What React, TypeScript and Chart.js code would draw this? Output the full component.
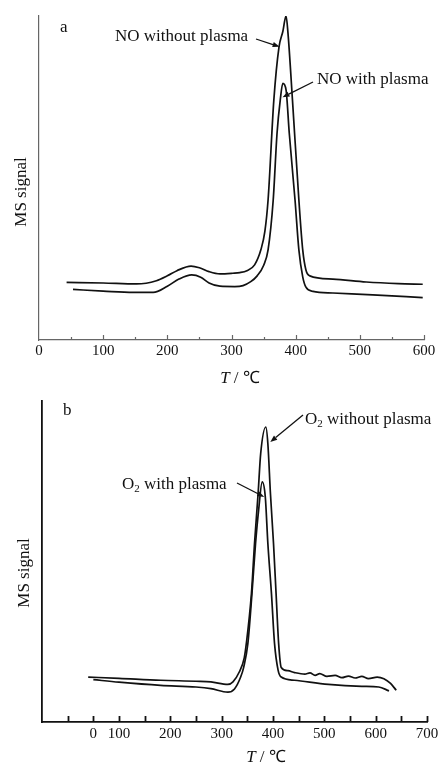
import React, { useEffect, useRef } from "react";
import { Chart, registerables } from "chart.js";
Chart.register(...registerables);

const SERIF = '"Liberation Serif", "Times New Roman", Times, serif';

// ---------- Panel a : NO signal ----------
const aTickValues = [0, 100, 200, 300, 400, 500, 600];
const aTickLabels = ["0", "100", "200", "300", "400", "500", "600"];
const aWithoutT = [43, 100, 152, 183, 200, 215, 237, 250, 265, 282, 302, 313, 324, 336, 346, 352, 357, 366, 374, 380, 385, 388, 395, 405, 411, 416, 422, 458, 510, 560, 598];
const aWithoutV = [17.8, 17.6, 17.3, 18.3, 19.8, 21.4, 22.8, 22.3, 21.1, 20.4, 20.6, 20.8, 21.4, 23.2, 28.0, 33.5, 43.2, 74.1, 90.4, 95.2, 100, 94.8, 74.1, 43.2, 27.8, 21.6, 19.8, 18.8, 17.9, 17.4, 17.2];
const aWithT = [53, 100, 147, 178, 200, 218, 238, 252, 265, 282, 305, 318, 330, 340, 350, 357, 365, 371, 376, 380, 385, 390, 399, 405, 411, 416, 427, 458, 520, 598];
const aWithV = [15.6, 15.1, 14.7, 14.7, 16.6, 18.8, 20.1, 19.4, 17.6, 16.6, 16.5, 16.8, 18.0, 19.8, 23.0, 27.8, 43.2, 63.9, 74.1, 79.2, 77.2, 63.9, 43.2, 27.8, 19.5, 16.3, 15.0, 14.5, 13.9, 13.1];

// ---------- Panel b : O2 signal ----------
const bTickValues = [50, 100, 200, 300, 400, 500, 600, 700];
const bTickLabels = ["0", "100", "200", "300", "400", "500", "600", "700"];
const bWithoutT = [40, 100, 181, 250, 279, 312, 322, 334, 344, 348, 358, 364, 371, 376, 386, 390, 395, 401, 406, 411, 416, 429, 442, 462, 472, 482, 491, 505, 521, 534, 547, 560, 573, 586, 603, 616, 629, 640];
const bWithoutV = [14.0, 13.6, 13.0, 12.7, 12.5, 11.7, 12.5, 15.5, 20.0, 24.4, 40.0, 55.6, 71.2, 83.6, 91.9, 86.7, 71.2, 55.6, 40.0, 24.4, 17.0, 16.0, 15.4, 14.9, 15.3, 14.5, 15.1, 14.2, 14.5, 13.8, 14.3, 13.7, 14.2, 13.5, 14.0, 13.5, 12.0, 9.9];
const bWithT = [50, 100, 181, 250, 279, 312, 325, 337, 343, 351, 359, 366, 372, 379, 385, 390, 397, 403, 410, 416, 442, 508, 573, 606, 626];
const bWithV = [13.2, 12.4, 11.4, 10.9, 10.4, 9.3, 10.3, 14.0, 17.1, 24.4, 40.0, 55.6, 66.0, 74.8, 70.1, 55.6, 40.0, 24.4, 16.1, 14.0, 13.0, 11.7, 11.1, 10.9, 9.7];

type Part = { t: string; size: number; italic?: boolean; dy?: number };

function drawParts(ctx: CanvasRenderingContext2D, parts: Part[], x: number, y: number, align: "left" | "center") {
  const fontOf = (p: Part) => `${p.italic ? "italic " : ""}${p.size}px ${SERIF}`;
  let total = 0;
  for (const p of parts) {
    ctx.font = fontOf(p);
    total += ctx.measureText(p.t).width;
  }
  let cx = align === "center" ? x - total / 2 : x;
  ctx.textAlign = "left";
  ctx.textBaseline = "alphabetic";
  for (const p of parts) {
    ctx.font = fontOf(p);
    ctx.fillText(p.t, cx, y + (p.dy || 0));
    cx += ctx.measureText(p.t).width;
  }
}

function drawArrow(ctx: CanvasRenderingContext2D, x1: number, y1: number, x2: number, y2: number) {
  const ang = Math.atan2(y2 - y1, x2 - x1);
  const hl = 7, hw = 2.6;
  const bx = x2 - hl * Math.cos(ang), by = y2 - hl * Math.sin(ang);
  ctx.beginPath();
  ctx.moveTo(x1, y1);
  ctx.lineTo(bx, by);
  ctx.lineWidth = 1.3;
  ctx.strokeStyle = "#111";
  ctx.stroke();
  ctx.beginPath();
  ctx.moveTo(x2, y2);
  ctx.lineTo(bx + hw * Math.sin(ang), by - hw * Math.cos(ang));
  ctx.lineTo(bx - hw * Math.sin(ang), by + hw * Math.cos(ang));
  ctx.closePath();
  ctx.fillStyle = "#111";
  ctx.fill();
}

type Note = { parts: Part[]; x: number; y: number };
type Arrow = { x: number; y: number; tipX: number; tipY: number };

type PanelCfg = {
  height: number;
  withoutT: number[];
  withoutV: number[];
  withT: number[];
  withV: number[];
  xMin: number;
  xMax: number;
  tickValues: number[];
  tickLabels: string[];
  padTop: number;
  padRight: number;
  yWidth: number;
  xHeight: number;
  axisColor: string;
  axisWidth: number;
  majorLen: number;
  minorLen: number;
  tickPad: number;
  notes: Note[];
  arrows: Arrow[];
  yTitle: { x: number; y: number };
  xTitle: { x: number; y: number };
};

function makeChart(canvas: HTMLCanvasElement, c: PanelCfg) {
  const overlay = {
    id: "overlay" + Math.random().toString(36).slice(2),
    afterDraw(chart: any) {
      const ctx: CanvasRenderingContext2D = chart.ctx;
      const xs = chart.scales.x;
      const ys = chart.scales.y;
      const area = chart.chartArea;
      ctx.save();
      // inward tick marks
      ctx.strokeStyle = c.axisColor;
      ctx.lineWidth = c.axisWidth;
      for (const t of xs.ticks) {
        if (t.value <= c.xMin) continue;
        const px = Math.round(xs.getPixelForValue(t.value)) + 0.5;
        const len = t.value % 100 === 0 ? c.majorLen : c.minorLen;
        ctx.beginPath();
        ctx.moveTo(px, area.bottom);
        ctx.lineTo(px, area.bottom - len);
        ctx.stroke();
      }
      ctx.fillStyle = "#111";
      for (const n of c.notes) drawParts(ctx, n.parts, n.x, n.y, "left");
      for (const a of c.arrows) {
        drawArrow(ctx, a.x, a.y, xs.getPixelForValue(a.tipX), ys.getPixelForValue(a.tipY));
      }
      // y title
      ctx.save();
      ctx.translate(c.yTitle.x, c.yTitle.y);
      ctx.rotate(-Math.PI / 2);
      ctx.fillStyle = "#111";
      drawParts(ctx, [{ t: "MS signal", size: 17 }], 0, 0, "center");
      ctx.restore();
      // x title
      ctx.fillStyle = "#111";
      drawParts(ctx, [{ t: "T", size: 17, italic: true }, { t: " / ℃", size: 17 }], c.xTitle.x, c.xTitle.y, "center");
      ctx.restore();
    },
  };

  const toPts = (ts: number[], vs: number[]) => ts.map((t, i) => ({ x: t, y: vs[i] }));
  const ds = (data: any) => ({
    data,
    borderColor: "#111",
    borderWidth: 1.7,
    pointRadius: 0,
    fill: false,
    cubicInterpolationMode: "monotone" as const,
  });

  return new Chart(canvas, {
    type: "line",
    data: {
      datasets: [ds(toPts(c.withoutT, c.withoutV)), ds(toPts(c.withT, c.withV))],
    },
    options: {
      responsive: false,
      animation: false,
      devicePixelRatio: 1,
      layout: { padding: { top: c.padTop, right: c.padRight, left: 0, bottom: 0 } },
      plugins: { legend: { display: false }, tooltip: { enabled: false }, title: { display: false } },
      scales: {
        x: {
          type: "linear",
          min: c.xMin,
          max: c.xMax,
          grid: { display: false },
          border: { display: true, color: c.axisColor, width: c.axisWidth },
          ticks: {
            stepSize: 50,
            autoSkip: false,
            maxRotation: 0,
            padding: c.tickPad,
            color: "#111",
            font: { family: SERIF, size: 15 },
            callback: (v: any) => {
              const i = c.tickValues.indexOf(Number(v));
              return i >= 0 ? c.tickLabels[i] : "";
            },
          },
          afterFit: (s: any) => {
            s.height = c.xHeight;
          },
        },
        y: {
          type: "linear",
          min: 0,
          max: 100,
          grid: { display: false },
          border: { display: true, color: c.axisColor, width: c.axisWidth },
          ticks: { display: false },
          afterFit: (s: any) => {
            s.width = c.yWidth;
          },
        },
      },
    },
    plugins: [overlay],
  } as any);
}

const panelA: PanelCfg = {
  height: 390,
  withoutT: aWithoutT,
  withoutV: aWithoutV,
  withT: aWithT,
  withV: aWithV,
  xMin: 0,
  xMax: 600,
  tickValues: aTickValues,
  tickLabels: aTickLabels,
  padTop: 16,
  padRight: 18,
  yWidth: 39,
  xHeight: 50,
  axisColor: "#666",
  axisWidth: 1.2,
  majorLen: 5,
  minorLen: 3,
  tickPad: -6,
  notes: [
    { parts: [{ t: "a", size: 17 }], x: 60, y: 31.5 },
    { parts: [{ t: "NO without plasma", size: 17 }], x: 115, y: 40.5 },
    { parts: [{ t: "NO with plasma", size: 17 }], x: 317, y: 84 },
  ],
  arrows: [
    { x: 256, y: 39, tipX: 375, tipY: 90.5 },
    { x: 313, y: 82, tipX: 379.5, tipY: 74.9 },
  ],
  yTitle: { x: 26, y: 192 },
  xTitle: { x: 240, y: 383 },
};

const panelB: PanelCfg = {
  height: 374,
  withoutT: bWithoutT,
  withoutV: bWithoutV,
  withT: bWithT,
  withV: bWithV,
  xMin: -50,
  xMax: 700,
  tickValues: bTickValues,
  tickLabels: bTickLabels,
  padTop: 11,
  padRight: 15,
  yWidth: 42,
  xHeight: 42,
  axisColor: "#111",
  axisWidth: 1.8,
  majorLen: 6,
  minorLen: 6,
  tickPad: -5,
  notes: [
    { parts: [{ t: "b", size: 17 }], x: 63, y: 25 },
    { parts: [{ t: "O", size: 17 }, { t: "2", size: 11, dy: 3 }, { t: " without plasma", size: 17 }], x: 305, y: 34 },
    { parts: [{ t: "O", size: 17 }, { t: "2", size: 11, dy: 3 }, { t: " with plasma", size: 17 }], x: 122, y: 99 },
  ],
  arrows: [
    { x: 303, y: 25, tipX: 394.7, tipY: 87.2 },
    { x: 237, y: 93, tipX: 383, tipY: 70.1 },
  ],
  yTitle: { x: 29, y: 183 },
  xTitle: { x: 266, y: 372 },
};

function Panel({ cfg, top }: { cfg: PanelCfg; top: number }) {
  const ref = useRef<HTMLCanvasElement | null>(null);
  useEffect(() => {
    if (!ref.current) return;
    const ch = makeChart(ref.current, cfg);
    return () => ch.destroy();
  }, [cfg]);
  return (
    <canvas
      ref={ref}
      width={442}
      height={cfg.height}
      style={{ position: "absolute", left: 0, top, width: 442, height: cfg.height, display: "block" }}
    />
  );
}

export default function App() {
  return (
    <div style={{ position: "fixed", left: 0, top: 0, width: 442, height: 764, background: "#fff", overflow: "hidden" }}>
      <Panel cfg={panelA} top={0} />
      <Panel cfg={panelB} top={390} />
    </div>
  );
}
